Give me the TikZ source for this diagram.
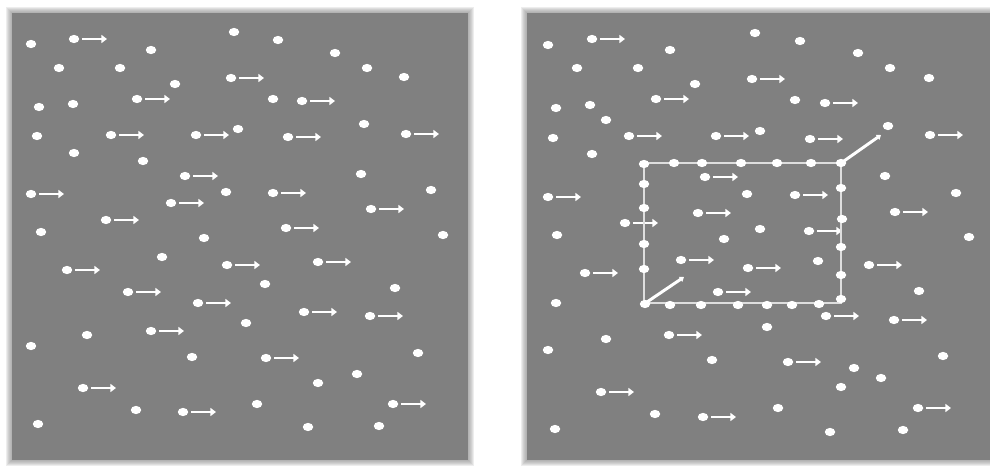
\documentclass[tikz,border=0pt]{standalone}
\definecolor{panelgray}{RGB}{128,128,128}
\definecolor{edgegray}{RGB}{222,222,222}
\colorlet{pointcol}{white}
\usepackage{tikz}
\usetikzlibrary{arrows.meta}

\begin{document}
\begin{tikzpicture}[x=0.02cm, y=-0.02cm,
  panel/.style={fill=panelgray},
  halo/.style={fill=panelgray, opacity=0.14},
  point/.style={fill=pointcol},
  vec/.style={-{Triangle[length=3.2pt, width=4.6pt]}, pointcol, line width=1.7pt},
  rim/.style={edgegray, line width=0.9pt},
  slant/.style={-{Triangle[length=2.4pt, width=3.4pt]}, pointcol, line width=1.7pt},
]
  \useasboundingbox (0,0) rectangle (990,470);
  % two panels with soft edges
  \foreach \d in {6,5,4,3,2,1} {
    \fill[halo] (12-\d,13-\d) rectangle (468+\d,460+\d);
    \fill[halo] (527-\d,13-\d) rectangle (995,460+\d);
  }
  \fill[panel] (12,13) rectangle (468,460);
  \fill[panel] (527,13) rectangle (995,460);

  % left panel: points at rest
  \foreach \x/\y in {31/44,151/50,234/32,278/40,335/53,59/68,120/68,367/68,175/84,404/77,
      273/99,39/107,73/104,37/136,238/129,364/124,74/153,143/161,361/174,226/192,
      431/190,41/232,204/238,443/235,162/257,265/284,395/288,246/323,87/335,31/346,
      192/357,418/353,357/374,318/383,136/410,257/404,308/427,379/426,38/424}
    \fill[point] (\x,\y) ellipse [x radius=0.105cm, y radius=0.082cm];
  % left panel: moving points
  \foreach \x/\y in {74/39,231/78,137/99,302/101,111/135,196/135,288/137,406/134,185/176,
      31/194,171/203,273/193,371/209,106/220,286/228,227/265,318/262,67/270,128/292,
      198/303,304/312,370/316,151/331,266/358,83/388,183/412,393/404} {
    \fill[point] (\x,\y) ellipse [x radius=0.105cm, y radius=0.082cm];
    \draw[vec] (\x+8,\y) -- ++(25,0);
  }

  % right panel: points at rest
  \foreach \x/\y in {548/45,670/50,755/33,800/41,858/53,577/68,638/68,890/68,695/84,929/78,
      795/100,556/108,590/105,606/120,553/138,760/131,888/126,592/154,885/176,747/194,
      956/193,557/235,724/239,760/229,969/237,818/261,919/291,556/303,767/327,606/339,
      548/350,712/360,943/356,854/368,881/378,841/387,655/414,778/408,555/429,830/432,
      903/430}
    \fill[point] (\x,\y) ellipse [x radius=0.105cm, y radius=0.082cm];
  % right panel: moving points
  \foreach \x/\y in {592/39,752/79,656/99,825/103,629/136,716/136,810/139,930/135,705/177,
      548/197,795/195,698/213,895/212,625/223,809/231,681/260,585/273,748/268,869/265,
      718/292,826/316,894/320,669/335,788/362,601/392,703/417,918/408} {
    \fill[point] (\x,\y) ellipse [x radius=0.105cm, y radius=0.082cm];
    \draw[vec] (\x+8,\y) -- ++(25,0);
  }

  % right panel: the box and the points on it
  \draw[rim] (644,163) rectangle (841,303);
  \foreach \x/\y in {644/164,674/163,702/163,741/163,777/163,811/163,841/163,
      644/184,644/208,644/244,644/269,645/304,
      841/188,842/219,841/247,841/275,841/299,
      670/305,701/305,738/305,767/305,792/305,819/304}
    \fill[point] (\x,\y) ellipse [x radius=0.105cm, y radius=0.082cm];
  \draw[slant] (647,302) -- (684,277);
  \draw[slant] (844,161) -- (881,135);
\end{tikzpicture}
\end{document}
